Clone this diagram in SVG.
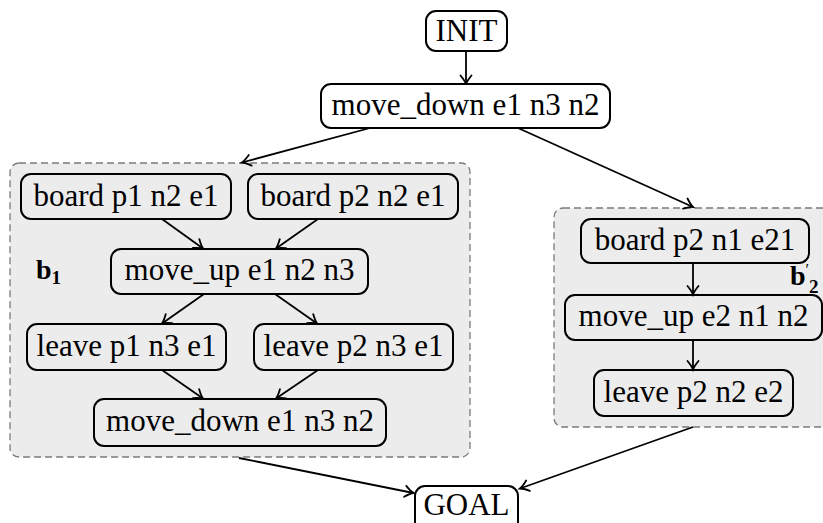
<svg xmlns="http://www.w3.org/2000/svg" width="823" height="523" viewBox="0 0 823 523">
<defs>
<style>
.grp{fill:#ececec;stroke:#7a7a7a;stroke-width:1.3;stroke-dasharray:7 4}
.nd{fill:none;stroke:#000;stroke-width:2}
.ndw{fill:#fff;stroke:#000;stroke-width:2}
.t{font-family:"Liberation Serif","DejaVu Serif",serif;font-size:31px;fill:#000;text-anchor:middle}
.lb{font-family:"Liberation Serif","DejaVu Serif",serif;font-weight:bold;fill:#000}
.e{fill:none;stroke:#000;stroke-width:1.8;marker-end:url(#ah)}
</style>
<marker id="ah" markerUnits="userSpaceOnUse" markerWidth="14" markerHeight="14" refX="0" refY="0" viewBox="-10 -7 12 14" orient="auto" overflow="visible">
<path d="M -8.5 -5.5 Q -3 -1 0 0 Q -3 1 -8.5 5.5" fill="none" stroke="#000" stroke-width="1.8" stroke-linecap="round"/>
</marker>
</defs>
<rect width="823" height="523" fill="#fff"/>
<g id="group-b1">
<rect class="grp" x="10" y="163" width="460" height="294" rx="9"/>
<text class="lb" x="36" y="279" font-size="28">b<tspan font-size="19" dy="5">1</tspan></text>
</g>
<g id="group-b2">
<rect class="grp" x="554" y="208" width="280" height="219" rx="9"/>
<text class="lb" x="790" y="285" font-size="28">b<tspan font-size="16" dy="-10" font-weight="normal">′</tspan><tspan font-size="19" dy="18">2</tspan></text>
</g>
<g id="connectors">
<line class="e" x1="466" y1="51" x2="466" y2="84"/>
<line class="e" x1="370" y1="128" x2="242" y2="162.5"/>
<line class="e" x1="518" y1="128" x2="693" y2="207"/>
<line class="e" x1="162" y1="219" x2="203" y2="248.5"/>
<line class="e" x1="318" y1="219" x2="276" y2="248.5"/>
<line class="e" x1="204" y1="294" x2="162" y2="323.5"/>
<line class="e" x1="275" y1="294" x2="317" y2="323.5"/>
<line class="e" x1="162" y1="370" x2="203" y2="398.5"/>
<line class="e" x1="318" y1="370" x2="276" y2="398.5"/>
<line class="e" x1="693" y1="263" x2="693" y2="294.5"/>
<line class="e" x1="693" y1="340" x2="693" y2="369.5"/>
<line class="e" x1="239" y1="458" x2="413.5" y2="493"/>
<line class="e" x1="693" y1="427" x2="520" y2="488.5"/>
</g>
<g id="n-init"><rect class="ndw" x="426" y="11" width="81" height="40" rx="10"/><text class="t" x="466.5" y="41">INIT</text></g>
<g id="n-move-down-top"><rect class="ndw" x="321" y="84" width="289" height="44" rx="10"/><text class="t" x="465.5" y="115">move_down e1 n3 n2</text></g>
<g id="n-board-p1"><rect class="nd" x="21" y="174" width="210" height="45" rx="10"/><text class="t" x="126" y="205.5">board p1 n2 e1</text></g>
<g id="n-board-p2"><rect class="nd" x="248" y="174" width="210" height="45" rx="10"/><text class="t" x="353" y="205.5">board p2 n2 e1</text></g>
<g id="n-move-up-1"><rect class="nd" x="111" y="249" width="257" height="45" rx="10"/><text class="t" x="239.5" y="280">move_up e1 n2 n3</text></g>
<g id="n-leave-p1"><rect class="nd" x="27" y="324" width="199" height="46" rx="10"/><text class="t" x="126.5" y="355.5">leave p1 n3 e1</text></g>
<g id="n-leave-p2"><rect class="nd" x="254" y="324" width="199" height="46" rx="10"/><text class="t" x="353.5" y="355.5">leave p2 n3 e1</text></g>
<g id="n-move-down-b1"><rect class="nd" x="94" y="399" width="292" height="47" rx="10"/><text class="t" x="240" y="431">move_down e1 n3 n2</text></g>
<g id="n-board-p2-n1"><rect class="nd" x="581" y="219" width="228" height="44" rx="10"/><text class="t" x="695" y="250">board p2 n1 e21</text></g>
<g id="n-move-up-2"><rect class="nd" x="565" y="295" width="257" height="45" rx="10"/><text class="t" x="693.5" y="326">move_up e2 n1 n2</text></g>
<g id="n-leave-p2-n2"><rect class="nd" x="594" y="370" width="199" height="46" rx="10"/><text class="t" x="693.5" y="401.5">leave p2 n2 e2</text></g>
<g id="n-goal"><rect class="ndw" x="415" y="486" width="103" height="46" rx="10"/><text class="t" x="466.5" y="515">GOAL</text></g>
</svg>
